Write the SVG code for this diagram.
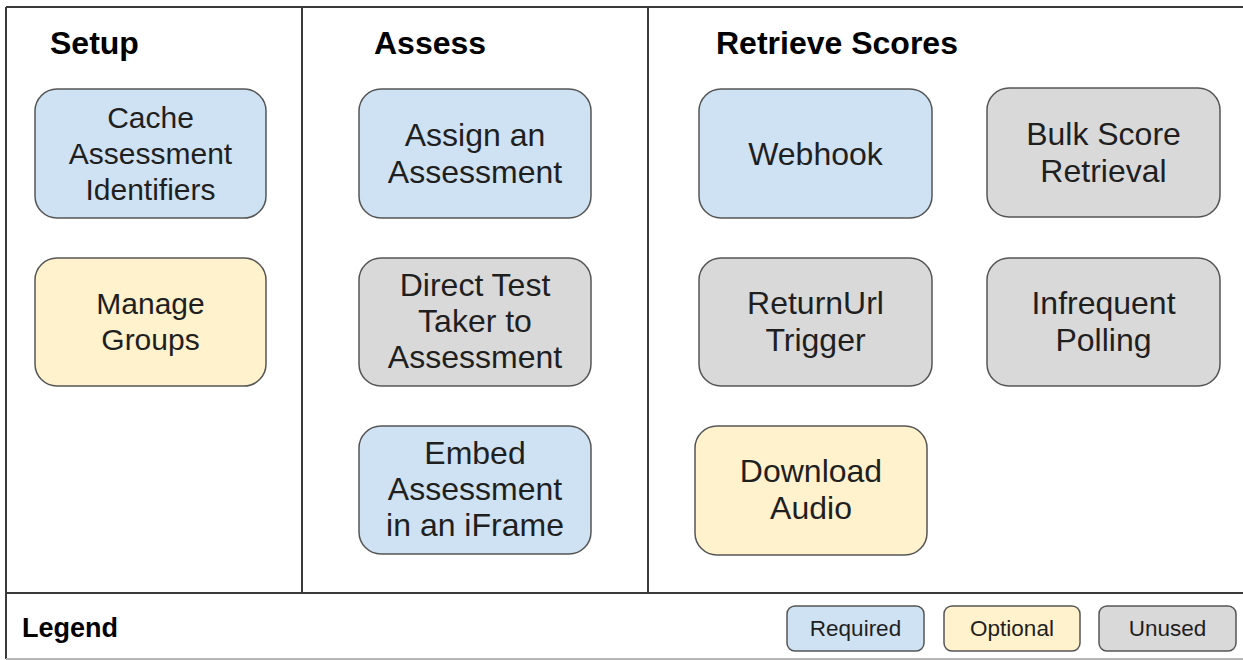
<svg xmlns="http://www.w3.org/2000/svg" width="1243" height="660" viewBox="0 0 1243 660">
<style>
.frame{stroke:#3a3a3a;stroke-width:2;fill:none}
.box{stroke:#555555;stroke-width:1.5}
.req{fill:#cfe2f3}
.opt{fill:#fff2cc}
.unu{fill:#d9d9d9}
.t{font-family:"Liberation Sans",Arial,sans-serif;font-size:32px;fill:#1f1f1f;text-anchor:middle}
.s{font-size:30px}
.h{font-family:"Liberation Sans",Arial,sans-serif;font-size:32px;font-weight:bold;fill:#000}
.lg{font-family:"Liberation Sans",Arial,sans-serif;font-size:22.5px;fill:#1f1f1f;text-anchor:middle}
</style>
<rect x="0" y="0" width="1243" height="660" fill="#ffffff"/>
<g id="frame">
<line class="frame" x1="6" y1="7" x2="1243" y2="7"/>
<line class="frame" x1="6" y1="7" x2="6" y2="659"/>
<line class="frame" x1="302" y1="7" x2="302" y2="593"/>
<line class="frame" x1="648" y1="7" x2="648" y2="593"/>
<line class="frame" x1="6" y1="593" x2="1243" y2="593"/>
<line x1="6" y1="659" x2="1243" y2="659" stroke="#b7b7b7" stroke-width="2"/>
</g>
<g id="headers">
<text class="h" x="50" y="54">Setup</text>
<text class="h" x="374" y="54">Assess</text>
<text class="h" x="716" y="54">Retrieve Scores</text>
<text class="h" x="22" y="637" style="font-size:27px">Legend</text>
</g>
<g id="cache">
<rect class="box req" x="35" y="89" width="231" height="129" rx="22"/>
<text class="t s" x="150.5" y="128">Cache</text>
<text class="t s" x="150.5" y="164">Assessment</text>
<text class="t s" x="150.5" y="200">Identifiers</text>
</g>
<g id="manage">
<rect class="box opt" x="35" y="258" width="231" height="128" rx="22"/>
<text class="t s" x="150.5" y="314">Manage</text>
<text class="t s" x="150.5" y="350">Groups</text>
</g>
<g id="assign">
<rect class="box req" x="359" y="89" width="232" height="129" rx="22"/>
<text class="t" x="475" y="146">Assign an</text>
<text class="t" x="475" y="183">Assessment</text>
</g>
<g id="direct">
<rect class="box unu" x="359" y="258" width="232" height="128" rx="22"/>
<text class="t" x="475" y="296">Direct Test</text>
<text class="t" x="475" y="332">Taker to</text>
<text class="t" x="475" y="368">Assessment</text>
</g>
<g id="embed">
<rect class="box req" x="359" y="426" width="232" height="128" rx="22"/>
<text class="t" x="475" y="464">Embed</text>
<text class="t" x="475" y="500">Assessment</text>
<text class="t" x="475" y="536">in an iFrame</text>
</g>
<g id="webhook">
<rect class="box req" x="699" y="89" width="233" height="129" rx="22"/>
<text class="t" x="815.5" y="165">Webhook</text>
</g>
<g id="bulk">
<rect class="box unu" x="987" y="88" width="233" height="129" rx="22"/>
<text class="t" x="1103.5" y="145">Bulk Score</text>
<text class="t" x="1103.5" y="182">Retrieval</text>
</g>
<g id="returnurl">
<rect class="box unu" x="699" y="258" width="233" height="128" rx="22"/>
<text class="t" x="815.5" y="314">ReturnUrl</text>
<text class="t" x="815.5" y="351">Trigger</text>
</g>
<g id="infrequent">
<rect class="box unu" x="987" y="258" width="233" height="128" rx="22"/>
<text class="t" x="1103.5" y="314">Infrequent</text>
<text class="t" x="1103.5" y="351">Polling</text>
</g>
<g id="download">
<rect class="box opt" x="695" y="426" width="232" height="129" rx="22"/>
<text class="t" x="811" y="482">Download</text>
<text class="t" x="811" y="519">Audio</text>
</g>
<g id="legend-required">
<rect class="box req" x="787" y="606" width="137" height="45" rx="8"/>
<text class="lg" x="855.5" y="636">Required</text>
</g>
<g id="legend-optional">
<rect class="box opt" x="944" y="606" width="136" height="45" rx="8"/>
<text class="lg" x="1012" y="636">Optional</text>
</g>
<g id="legend-unused">
<rect class="box unu" x="1099" y="606" width="137" height="45" rx="8"/>
<text class="lg" x="1167.5" y="636">Unused</text>
</g>
<g id="connectors"></g>
</svg>
